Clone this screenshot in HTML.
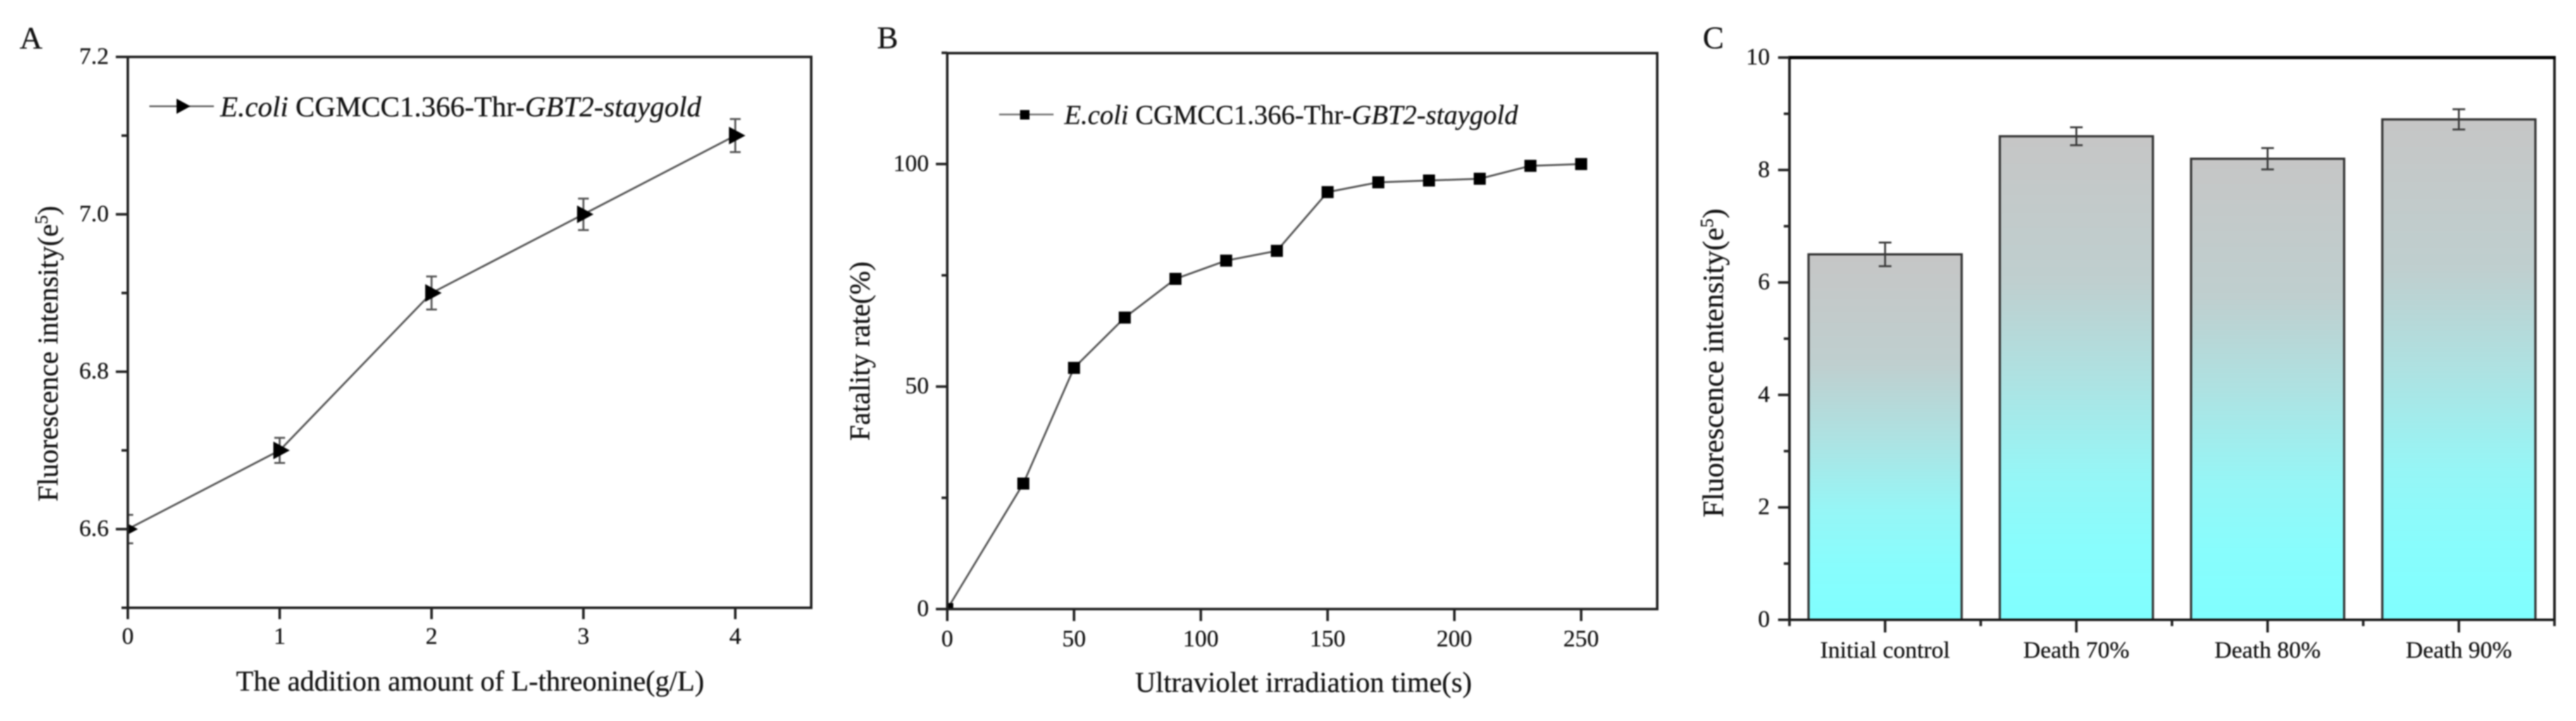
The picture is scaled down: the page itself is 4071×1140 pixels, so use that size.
<!DOCTYPE html>
<html lang="en">
<head>
<meta charset="utf-8">
<title>Fluorescence and fatality charts</title>
<style>
html,body{margin:0;padding:0;background:#fff;width:4071px;height:1140px;overflow:hidden}
svg{display:block;filter:blur(1.1px)}
text{font-family:"Liberation Serif",serif;fill:#141414;stroke:#141414;stroke-width:0.35px}
.tick{font-size:37.5px}
.title{font-size:45px}
.panel{font-size:50px}
.legend-a{font-size:45.6px}
.legend-b{font-size:43px}
</style>
</head>
<body>
<svg id="fig" xmlns="http://www.w3.org/2000/svg" width="4071" height="1140" viewBox="0 0 4071 1140">
  <defs>
    <clipPath id="clipA"><rect x="202" y="90" width="1080" height="871"/></clipPath>
    <clipPath id="clipB"><rect x="1497" y="84" width="1122" height="879"/></clipPath>
    <linearGradient id="barFill" x1="0" y1="0" x2="0" y2="1">
      <stop offset="0" stop-color="#c6c6c6"/>
      <stop offset="0.3" stop-color="#bfcfcf"/>
      <stop offset="0.5" stop-color="#aee2e2"/>
      <stop offset="0.7" stop-color="#96f6f6"/>
      <stop offset="0.85" stop-color="#88fdfd"/>
      <stop offset="1" stop-color="#80ffff"/>
    </linearGradient>
  </defs>
  <rect x="0" y="0" width="4071" height="1140" fill="#fff"/>

  <g id="panelA">
    <text class="panel" x="31" y="77">A</text>
    <g id="A-marks"></g>
    <g id="A-axes"></g>
    <text class="title" x="743" y="1092" text-anchor="middle">The addition amount of L-threonine(g/L)</text>
    <text class="title" transform="translate(91,793) rotate(-90)">Fluorescence intensity(e<tspan dy="-16" font-size="28">5</tspan><tspan dy="16">)</tspan></text>
    <g>
      <line x1="236" y1="168" x2="338" y2="168" stroke="#555" stroke-width="2.5"/>
      <polygon points="279,156 301,168 279,180" fill="#000"/>
      <text class="legend-a" x="348" y="184"><tspan font-style="italic">E.coli</tspan> CGMCC1.366-Thr-<tspan font-style="italic">GBT2-staygold</tspan></text>
    </g>
  </g>

  <g id="panelB">
    <text class="panel" x="1386" y="76">B</text>
    <g id="B-marks"></g>
    <g id="B-axes"></g>
    <text class="title" x="2060" y="1094" text-anchor="middle">Ultraviolet irradiation time(s)</text>
    <text class="title" transform="translate(1374,697) rotate(-90)">Fatality rate(%)</text>
    <g>
      <line x1="1579" y1="181" x2="1665" y2="181" stroke="#666" stroke-width="2.5"/>
      <rect x="1612" y="174" width="15" height="15" fill="#000"/>
      <text class="legend-b" x="1682" y="196"><tspan font-style="italic">E.coli</tspan> CGMCC1.366-Thr-<tspan font-style="italic">GBT2-staygold</tspan></text>
    </g>
  </g>

  <g id="panelC">
    <text class="panel" x="2691" y="76">C</text>
    <g id="C-marks"></g>
    <g id="C-axes"></g>
    <text class="title" style="font-size:47px" transform="translate(2723,818) rotate(-90)">Fluorescence intensity(e<tspan dy="-16" font-size="29">5</tspan><tspan dy="16">)</tspan></text>
  </g>
</svg>

<script>
const NS = 'http://www.w3.org/2000/svg';

// Panel A data
const aXValues = [0, 1, 2, 3, 4];
const aYValues = [6.6, 6.7, 6.9, 7.0, 7.1];
const aErrors = [0.018, 0.016, 0.021, 0.02, 0.021];
const aXTicks = [0, 1, 2, 3, 4];
const aYMajorTicks = ['6.6', '6.8', '7.0', '7.2'];
const aYMinorTicks = [6.5, 6.7, 6.9, 7.1];

// Panel B data
const bXValues = [0, 30, 50, 70, 90, 110, 130, 150, 170, 190, 210, 230, 250];
const bYValues = [0, 28.2, 54.2, 65.5, 74.2, 78.3, 80.5, 93.7, 95.9, 96.3, 96.7, 99.6, 100];
const bXTicks = [0, 50, 100, 150, 200, 250];
const bYMajorTicks = [0, 50, 100];
const bYMinorTicks = [25, 75, 125];

// Panel C data
const cCategories = ['Initial control', 'Death 70%', 'Death 80%', 'Death 90%'];
const cValues = [6.5, 8.6, 8.2, 8.9];
const cErrors = [0.21, 0.16, 0.19, 0.18];
const cYMajorTicks = [0, 2, 4, 6, 8, 10];
const cYMinorTicks = [1, 3, 5, 7, 9];

// Axis functions
function axAx(v) { return 202 + (v / 4.5) * 1080; }
function axAy(v) { return 961 - ((v - 6.5) / 0.7) * 871; }
function axBx(v) { return 1497 + (v / 280) * 1122; }
function axBy(v) { return 963 - (v / 125) * 879.5; }
function axCy(v) { return 980 - (v / 10) * 889; }
function axCx(i) { return 2828 + (i + 0.5) * ((4037 - 2828) / cCategories.length); }
function axCedge(i) { return 2828 + i * ((4037 - 2828) / cCategories.length); }

function mk(tag, parent, attrs) {
  const el = document.createElementNS(NS, tag);
  for (const k in attrs) el.setAttribute(k, attrs[k]);
  parent.appendChild(el);
  return el;
}
function line(parent, x1, y1, x2, y2, color, w) {
  return mk('line', parent, { x1: x1, y1: y1, x2: x2, y2: y2, stroke: color, 'stroke-width': w });
}
function label(parent, x, y, str, anchor) {
  const t = mk('text', parent, { x: x, y: y, 'text-anchor': anchor, class: 'tick' });
  t.textContent = str;
  return t;
}
const AXIS = '#222';
const AXW = 4;

/* ---------- Panel A ---------- */
const aMarks = document.getElementById('A-marks');
const aClip = mk('g', aMarks, { 'clip-path': 'url(#clipA)' });
const aLine = mk('polyline', aClip, {
  points: aXValues.map((x, i) => axAx(x) + ',' + axAy(aYValues[i])).join(' '),
  fill: 'none', stroke: '#555', 'stroke-width': 3
});


aXValues.forEach((x, i) => {
  const px = axAx(x), py = axAy(aYValues[i]);
  const top = axAy(aYValues[i] + aErrors[i]), bot = axAy(aYValues[i] - aErrors[i]);
  const err = mk('g', aClip, {});
  
  
  line(err, px, top, px, bot, '#555', 3);
  line(err, px - 8.5, top, px + 8.5, top, '#555', 3);
  line(err, px - 8.5, bot, px + 8.5, bot, '#555', 3);
  const m = mk('polygon', aClip, {
    points: (px - 10) + ',' + (py - 14) + ' ' + (px + 16) + ',' + py + ' ' + (px - 10) + ',' + (py + 14),
    fill: '#000'
  });
  
  
});
const aAxes = document.getElementById('A-axes');
const aFrame = mk('rect', aAxes, { x: 202, y: 90, width: 1080, height: 871, fill: 'none', stroke: AXIS, 'stroke-width': AXW });


aYMajorTicks.forEach(s => {
  const y = axAy(parseFloat(s));
  line(aAxes, 183, y, 202, y, AXIS, AXW);
  const t = label(aAxes, 172, y + 11, s, 'end');
  
  
});
aYMinorTicks.forEach(v => { const y = axAy(v); line(aAxes, 192, y, 202, y, AXIS, AXW); });
aXTicks.forEach(v => {
  const x = axAx(v);
  line(aAxes, x, 961, x, 979, AXIS, AXW);
  const t = label(aAxes, x, 1018, String(v), 'middle');
  
  
});

/* ---------- Panel B ---------- */
const bMarks = document.getElementById('B-marks');
const bClip = mk('g', bMarks, { 'clip-path': 'url(#clipB)' });
const bLine = mk('polyline', bClip, {
  points: bXValues.map((x, i) => axBx(x) + ',' + axBy(bYValues[i])).join(' '),
  fill: 'none', stroke: '#555', 'stroke-width': 3
});


bXValues.forEach((x, i) => {
  const m = mk('rect', bClip, { x: axBx(x) - 9.5, y: axBy(bYValues[i]) - 9.5, width: 19, height: 19, fill: '#000' });
  
  
});
const bAxes = document.getElementById('B-axes');
const bFrame = mk('rect', bAxes, { x: 1497, y: 84, width: 1122, height: 879, fill: 'none', stroke: AXIS, 'stroke-width': AXW });


bYMajorTicks.forEach(v => {
  const y = axBy(v);
  line(bAxes, 1479, y, 1497, y, AXIS, AXW);
  const t = label(bAxes, 1468, y + 11, String(v), 'end');
  
  
});
bYMinorTicks.forEach(v => { const y = axBy(v); line(bAxes, 1488, y, 1497, y, AXIS, AXW); });
bXTicks.forEach(v => {
  const x = axBx(v);
  line(bAxes, x, 963, x, 982, AXIS, AXW);
  const t = label(bAxes, x, 1022, String(v), 'middle');
  
  
});

/* ---------- Panel C ---------- */
const cMarks = document.getElementById('C-marks');
cCategories.forEach((c, i) => {
  const cx = axCx(i), top = axCy(cValues[i]);
  const b = mk('rect', cMarks, { x: cx - 121, y: top, width: 242, height: 980 - top, fill: 'url(#barFill)', stroke: '#333', 'stroke-width': 3.5 });
  
  
  const et = axCy(cValues[i] + cErrors[i]), eb = axCy(cValues[i] - cErrors[i]);
  const err = mk('g', cMarks, {});
  
  
  line(err, cx, et, cx, eb, '#3c3c3c', 3);
  line(err, cx - 10, et, cx + 10, et, '#3c3c3c', 3);
  line(err, cx - 10, eb, cx + 10, eb, '#3c3c3c', 3);
});
const cAxes = document.getElementById('C-axes');
const cFrame = mk('rect', cAxes, { x: 2828, y: 91, width: 1209, height: 889, fill: 'none', stroke: '#1a1a1a', 'stroke-width': AXW });


const cTop = line(cAxes, 2826, 91, 4039, 91, '#000', 5);


cYMajorTicks.forEach(v => {
  const y = axCy(v);
  line(cAxes, 2810, y, 2828, y, AXIS, AXW);
  const t = label(cAxes, 2797, y + 11, String(v), 'end');
  
  
});
cYMinorTicks.forEach(v => { const y = axCy(v); line(cAxes, 2819, y, 2828, y, AXIS, AXW); });
cCategories.forEach((c, i) => {
  const x = axCx(i);
  line(cAxes, x, 980, x, 1000, AXIS, AXW);
  const t = label(cAxes, x, 1040, c, 'middle');
  
  
});
for (let i = 0; i <= cCategories.length; i++) {
  const x = axCedge(i);
  line(cAxes, x, 980, x, 990, AXIS, AXW);
}
</script>
</body>
</html>
